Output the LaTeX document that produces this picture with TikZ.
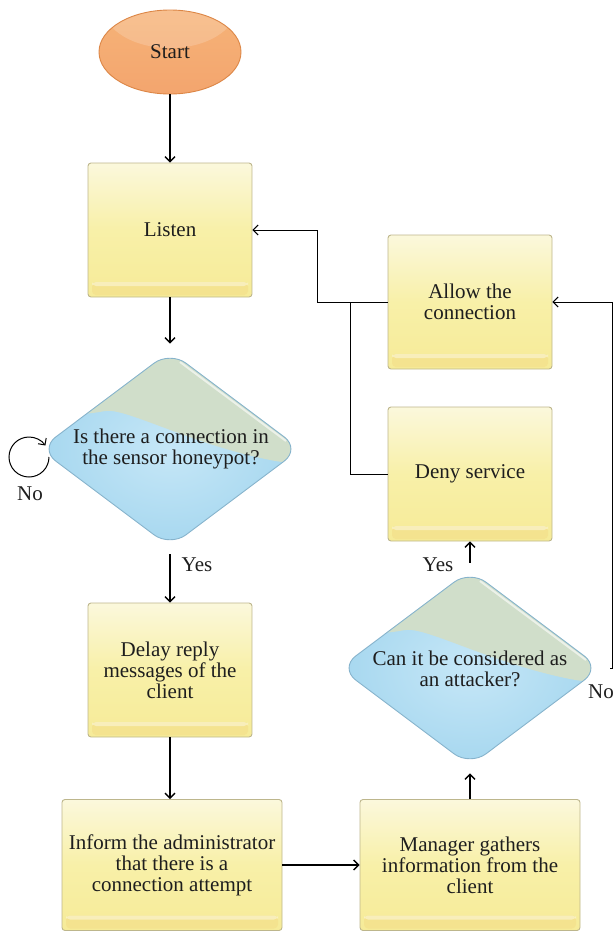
\documentclass[tikz,border=0pt]{standalone}
\usepackage{fontspec}
\setmainfont{Liberation Serif}
\usetikzlibrary{shapes.geometric,arrows.meta,calc}
\definecolor{boxtop}{HTML}{FBF8DC}
\definecolor{boxmid}{HTML}{F8F0A8}
\definecolor{boxbot}{HTML}{F6EB98}
\definecolor{boxline}{HTML}{BDB68C}
\definecolor{bandcol}{HTML}{F4E38F}
\definecolor{diablue}{HTML}{A6D7EF}
\definecolor{diablue2}{HTML}{C6E7F7}
\definecolor{diagreen}{HTML}{D0DECA}
\definecolor{dialine}{HTML}{86B3CC}
\definecolor{orangetop}{HTML}{F6B378}
\definecolor{orangebot}{HTML}{F3A56E}
\definecolor{orangeline}{HTML}{DC8646}
\definecolor{txt}{HTML}{1E1E1E}
\begin{document}
\begin{tikzpicture}[x=1pt,y=-1pt,
  every node/.style={font=\fontsize{21}{21}\selectfont, text=txt},
  arr/.style={-{Straight Barb[length=5pt,width=10pt]}, line width=1.3pt, black},
  conn/.style={line width=1pt, black},
  startshape/.style={ellipse, draw=orangeline, line width=0.9pt, top color=orangetop, bottom color=orangebot,
    minimum width=142pt, minimum height=84pt, inner sep=0pt,
    path picture={\fill[white,opacity=0.18] ($(path picture bounding box.center)+(0,-44)$) ellipse [x radius=66pt, y radius=40pt];}},
  procbox/.style={rectangle, rounded corners=3pt, draw=boxline, line width=0.9pt,
    top color=boxtop, bottom color=boxbot, middle color=boxmid, align=center,
    minimum width=164pt, minimum height=134pt,
    path picture={\fill[bandcol, rounded corners=4pt] ([xshift=4pt,yshift=2pt]path picture bounding box.south west) rectangle ([xshift=-4pt,yshift=15pt]path picture bounding box.south east);
      \fill[white,opacity=0.4, rounded corners=4pt] ([xshift=4pt,yshift=15pt]path picture bounding box.south west) rectangle ([xshift=-4pt,yshift=11pt]path picture bounding box.south east);}},
  widebox/.style={procbox, minimum width=220pt, minimum height=131pt},
  decision/.style={diamond, rounded corners=20pt, draw=dialine, line width=0.9pt, inner sep=0pt,
    minimum width=261pt, minimum height=196pt, inner color=diablue2, outer color=diablue,
    path picture={
      \fill[diagreen] ($(path picture bounding box.center)+(-135,-34)$) -- ($(path picture bounding box.center)+(-85,-34)$)
        .. controls ($(path picture bounding box.center)+(-45,-42)$) and ($(path picture bounding box.center)+(20,-5)$) .. ($(path picture bounding box.center)+(120,15)$)
        -- ($(path picture bounding box.center)+(135,15)$) -- ($(path picture bounding box.center)+(135,-110)$) -- ($(path picture bounding box.center)+(-135,-110)$) -- cycle;
      \draw[white, opacity=0.6, line width=2pt] ($(path picture bounding box.center)+(10,-87)$) -- ($(path picture bounding box.center)+(116,-8)$);}},
  qtext/.style={align=center},
  lbl/.style={}
]
\useasboundingbox (0,0) rectangle (614,932);

% nodes
\node[startshape] (start) at (170,52) {Start};
\node[procbox] (listen) at (170,230) {Listen};
\node[decision] (d1) at (170,449) {};
\node[qtext] (d1t) at (171,449) {Is there a connection in\\the sensor honeypot?};
\node[procbox] (delay) at (170,670) {Delay reply\\messages of the\\client};
\node[widebox] (inform) at (172,865) {Inform the administrator\\that there is a\\connection attempt};
\node[widebox] (manager) at (470,865) {Manager gathers\\information from the\\client};
\node[decision] (d2) at (470,668) {};
\node[qtext] (d2t) at (470,669) {Can it be considered as\\an attacker?};
\node[procbox] (deny) at (470,474) {Deny service};
\node[procbox] (allow) at (470,302) {Allow the\\connection};

% labels
\node[lbl] (no1) at (30,494) {No};
\node[lbl] (yes1) at (197,565) {Yes};
\node[lbl] (yes2) at (438,565) {Yes};
\node[lbl] (no2) at (601,692) {No};

% helper coordinates
\coordinate (rr) at (612,302);
\coordinate (lk) at (317,230);
\coordinate (j2) at (350,302);
\coordinate (lp) at (49,457);

% connectors
\draw[arr] (start) -- (listen);
\draw[arr, shorten >=7pt] (listen) -- (d1);
\draw[arr, shorten <=7pt] (d1) -- (delay);
\draw[arr] (delay) -- (delay.south |- inform.north);
\draw[arr] (inform) -- (manager);
\draw[arr, shorten >=7pt] (manager) -- (d2);
\draw[arr, shorten <=7pt] (d2) -- (deny);
\draw[arr, line width=1pt, shorten <=9.4pt] (d2.east) -| (rr) -- (allow.east);
\draw[arr, line width=1pt] (allow.west) -| (lk) -- (listen.east);
\draw[conn] (deny.west) -| (j2);
\draw[arr, line width=1pt] (lp) arc[start angle=0, end angle=-325, radius=20pt];
\end{tikzpicture}
\end{document}
